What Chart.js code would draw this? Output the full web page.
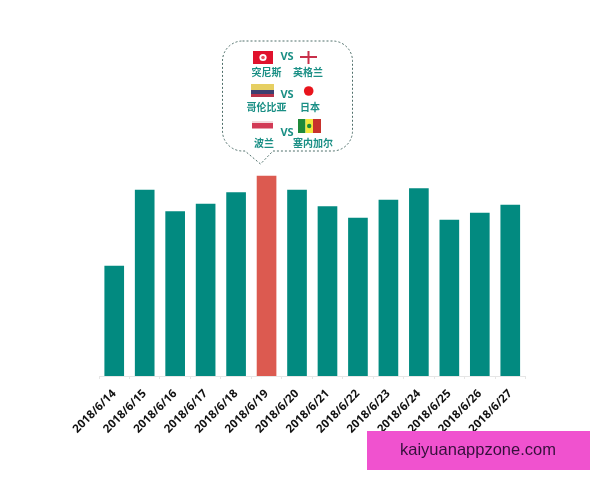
<!DOCTYPE html>
<html><head><meta charset="utf-8">
<style>html,body{margin:0;padding:0;background:#fff}#w{width:600px;height:480px}</style>
<script src="https://cdn.jsdelivr.net/npm/chart.js@4"></script></head>
<body><div id="w"><canvas id="c" width="600" height="480"></canvas></div>
<script>
const categories=["2018/6/14","2018/6/15","2018/6/16","2018/6/17","2018/6/18","2018/6/19","2018/6/20","2018/6/21","2018/6/22","2018/6/23","2018/6/24","2018/6/25","2018/6/26","2018/6/27"];
const values=[110,186,164.5,172,183.5,200,186,169.5,158,176,187.5,156,163,171];
const highlightDate="2018/6/19";
const matchHome=["突尼斯","哥伦比亚","波兰"];
const matchAway=["英格兰","日本","塞内加尔"];
const versusLabel="VS";
const watermark="kaiyuanappzone.com";
const TEAL="#028a80",RED="#dc5a50",LABEL="#1a8f85";

function callout(ctx){
  ctx.save();
  const l=222.5,r=352.5,t=41,b=151,rad=20;
  ctx.beginPath();
  ctx.moveTo(l+rad,t);ctx.lineTo(r-rad,t);ctx.arcTo(r,t,r,t+rad,rad);
  ctx.lineTo(r,b-rad);ctx.arcTo(r,b,r-rad,b,rad);
  ctx.lineTo(273,b);ctx.lineTo(260.5,164);ctx.lineTo(245,b);
  ctx.lineTo(l+rad,b);ctx.arcTo(l,b,l,b-rad,rad);
  ctx.lineTo(l,t+rad);ctx.arcTo(l,t,l+rad,t,rad);ctx.closePath();
  ctx.fillStyle="#fff";ctx.fill();
  ctx.setLineDash([2,2]);ctx.lineWidth=1;ctx.strokeStyle="#4f6f6a";ctx.stroke();
  ctx.setLineDash([]);
  ctx.fillStyle="#e0122d";ctx.fillRect(253,51,20,13);
  ctx.fillStyle="#fff";ctx.beginPath();ctx.arc(263,57.5,3.6,0,7);ctx.fill();
  ctx.fillStyle="#e8505f";ctx.beginPath();ctx.arc(263,57.5,1.8,0,7);ctx.fill();
  ctx.fillStyle="#c8304a";ctx.fillRect(300,56,17,2);ctx.fillRect(307.5,51,2,13);
  ctx.fillStyle="#e6cf62";ctx.fillRect(251,84,23,6);
  ctx.fillStyle="#3d3f70";ctx.fillRect(251,90,23,4);
  ctx.fillStyle="#b8324a";ctx.fillRect(251,94,23,3);
  ctx.fillStyle="#e8141c";ctx.beginPath();ctx.arc(308.7,91,4.8,0,7);ctx.fill();
  ctx.fillStyle="#f4d8dc";ctx.fillRect(252,121,21,2);
  ctx.fillStyle="#d23a55";ctx.fillRect(252,123,21,5.5);
  ctx.fillStyle="#1f8a3a";ctx.fillRect(298,119,7.5,14);
  ctx.fillStyle="#f3e83c";ctx.fillRect(305.5,119,7.5,14);
  ctx.fillStyle="#c8322c";ctx.fillRect(313,119,8,14);
  ctx.fillStyle="#1f8a3a";ctx.beginPath();ctx.arc(309.2,126,2.2,0,7);ctx.fill();
  ctx.textAlign="center";ctx.textBaseline="middle";ctx.fillStyle=LABEL;
  ctx.font='bold 10px "Noto Sans CJK SC"';
  const homeX=[266.5,266.5,264],awayX=[308,310,313],nameY=[72,107,143];
  matchHome.forEach((s,i)=>ctx.fillText(s,homeX[i],nameY[i]));
  matchAway.forEach((s,i)=>ctx.fillText(s,awayX[i],nameY[i]));
  ctx.font='bold 11px "Open Sans"';
  [57,94.5,132.5].forEach(y=>ctx.fillText(versusLabel,287,y));
  ctx.restore();
}
const overlay={id:"overlay",afterDraw(chart){
  const ctx=chart.ctx;
  callout(ctx);
  ctx.save();
  ctx.fillStyle="#f052cf";ctx.fillRect(367,431,223,39);
  ctx.fillStyle="#36103c";ctx.font='16.5px "Liberation Sans"';
  ctx.textAlign="center";ctx.textBaseline="middle";
  ctx.fillText(watermark,478,450.5);
  ctx.restore();
}};
new Chart(document.getElementById("c"),{
  type:"bar",
  data:{labels:categories,datasets:[{data:values,
    backgroundColor:categories.map(d=>d===highlightDate?RED:TEAL),
    barThickness:19}]},
  plugins:[overlay],
  options:{
    responsive:false,animation:false,
    layout:{padding:{left:99,right:74.5,top:20,bottom:0}},
    plugins:{legend:{display:false},tooltip:{enabled:false}},
    scales:{
      y:{display:false,min:0,max:356},
      x:{
        afterFit(s){s.height=104;s.paddingLeft=0;s.paddingRight=0;},
        grid:{drawOnChartArea:false,color:"#e6e6e6",tickLength:3},
        border:{color:"#e6e6e6"},
        ticks:{autoSkip:false,maxRotation:45,minRotation:45,padding:8,color:"#111111",
          font:{family:'"Open Sans"',weight:"bold",size:11.5}}
      }
    }
  }
});
</script></body></html>
